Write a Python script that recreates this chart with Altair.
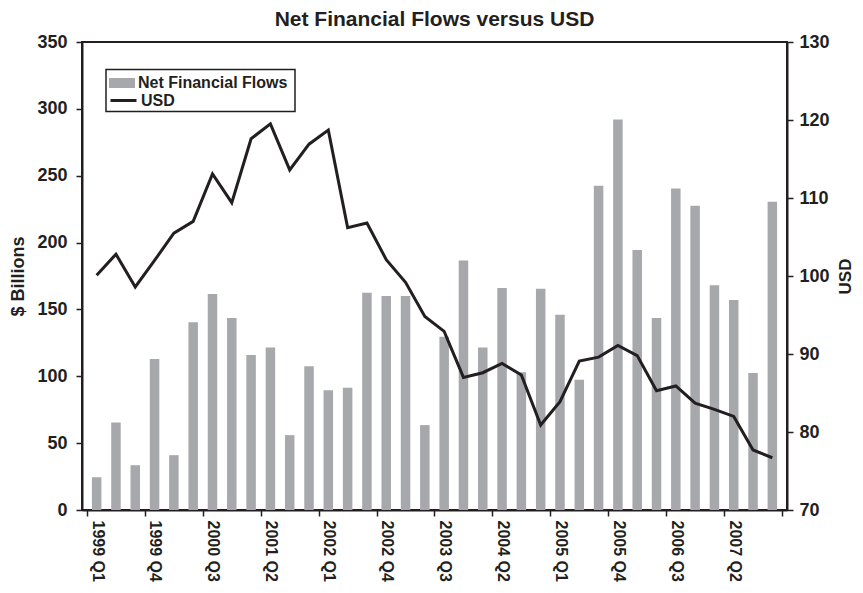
import json
import altair as alt
import pandas as pd

quarters = [
    "1999 Q1", "1999 Q2", "1999 Q3", "1999 Q4",
    "2000 Q1", "2000 Q2", "2000 Q3", "2000 Q4",
    "2001 Q1", "2001 Q2", "2001 Q3", "2001 Q4",
    "2002 Q1", "2002 Q2", "2002 Q3", "2002 Q4",
    "2003 Q1", "2003 Q2", "2003 Q3", "2003 Q4",
    "2004 Q1", "2004 Q2", "2004 Q3", "2004 Q4",
    "2005 Q1", "2005 Q2", "2005 Q3", "2005 Q4",
    "2006 Q1", "2006 Q2", "2006 Q3", "2006 Q4",
    "2007 Q1", "2007 Q2", "2007 Q3", "2007 Q4",
]
net_flows = [24.5, 65.5, 33.5, 113, 41, 140.5, 161.5, 143.5, 116, 121.5, 56, 107.5,
             89.5, 91.5, 162.5, 160, 160, 63.5, 129.5, 186.5, 121.5, 166, 103, 165.5,
             146, 97.5, 242.5, 292, 194.5, 143.5, 240.5, 227.5, 168, 157, 102.5, 230.5]
usd = [100.1, 102.8, 98.6, 102.0, 105.5, 107.0, 113.1, 109.4, 117.6, 119.5, 113.6, 116.9,
       118.7, 106.2, 106.8, 102.1, 99.2, 94.8, 92.9, 87.0, 87.6, 88.8, 87.3, 80.9,
       83.9, 89.1, 89.6, 91.1, 89.8, 85.3, 85.9, 83.7, 82.9, 82.0, 77.7, 76.7]
series_names = ["Net Financial Flows", "USD"]
x_tick_values = list(range(0, 37, 3))
left_ticks = list(range(0, 351, 50))
right_ticks = list(range(70, 131, 10))

df = pd.DataFrame({
    "idx": list(range(len(quarters))),
    "quarter": quarters,
    "flows": net_flows,
    "usd": usd,
    "s_bar": [series_names[0]] * len(quarters),
    "s_line": [series_names[1]] * len(quarters),
})

BAR = "#a7a8ac"
INK = "#231f20"
FONT = "Liberation Sans"

label_expr = f"datum.value < {len(quarters)} ? {json.dumps(quarters)}[datum.value] : ''"

x_enc = alt.X(
    "xc:Q",
    scale=alt.Scale(domain=[0, len(quarters)], nice=False, zero=False),
    axis=alt.Axis(
        values=x_tick_values, labelExpr=label_expr, labelAngle=90, labelOffset=10,
        labelFontSize=16, labelFontWeight="bold", labelColor=INK, labelPadding=4,
        tickSize=6, tickWidth=1.5, tickColor=INK, domainWidth=2, domainColor=INK,
        grid=False, title=None, labelOverlap=False,
    ),
)

base = alt.Chart(df).transform_calculate(xc="datum.idx + 0.5")

bars = base.mark_bar(size=9.5).encode(
    x=x_enc,
    y=alt.Y(
        "flows:Q",
        scale=alt.Scale(domain=[0, 350], nice=False),
        axis=alt.Axis(
            values=left_ticks, title="$ Billions", titleFontSize=18, titleFontWeight="bold",
            titleColor=INK, titlePadding=9, labelFontSize=18, labelFontWeight="bold",
            labelColor=INK, labelPadding=9, tickSize=6, tickWidth=1.5, tickColor=INK,
            domainWidth=2, domainColor=INK, grid=False,
        ),
    ),
    fill=alt.Fill(
        "s_bar:N",
        scale=alt.Scale(domain=[series_names[0]], range=[BAR]),
        legend=alt.Legend(
            title=None, orient="none", legendX=27, legendY=28, padding=0,
            symbolType="M-1,-0.385H1V0.385H-1Z", symbolSize=676, symbolStrokeWidth=0,
            labelFontSize=16, labelFontWeight="bold", labelColor=INK, labelOffset=3,
        ),
    ),
)

line = base.mark_line(strokeWidth=3, strokeJoin="miter").encode(
    x=x_enc,
    y=alt.Y(
        "usd:Q",
        scale=alt.Scale(domain=[70, 130], nice=False, zero=False),
        axis=alt.Axis(
            orient="right", values=right_ticks, title="USD", titleFontSize=17,
            titleFontWeight="bold", titleColor=INK, titleAngle=270, titleBaseline="top",
            titlePadding=8, labelFontSize=18, labelFontWeight="bold", labelColor=INK,
            labelPadding=6, tickSize=6, tickWidth=1.5, tickColor=INK, domainWidth=2,
            domainColor=INK, grid=False,
        ),
    ),
    stroke=alt.Stroke(
        "s_line:N",
        scale=alt.Scale(domain=[series_names[1]], range=[INK]),
        legend=alt.Legend(
            title=None, orient="none", legendX=27, legendY=44, padding=0,
            symbolType="stroke", symbolSize=676, symbolStrokeWidth=3,
            labelFontSize=16, labelFontWeight="bold", labelColor=INK, labelOffset=3,
        ),
    ),
)

legend_box = alt.Chart(pd.DataFrame({"box": [0]})).mark_rect(
    fill="white", stroke=INK, strokeWidth=1.5
).encode(
    x=alt.value(24), x2=alt.value(213), y=alt.value(27.5), y2=alt.value(69.5)
)

chart = alt.layer(legend_box, bars, line).resolve_scale(
    y="independent", fill="independent", stroke="independent"
).properties(
    width=705,
    height=468,
    autosize=alt.AutoSizeParams(type="none"),
    padding={"left": 74, "top": 34, "right": 68, "bottom": 75},
    title=alt.TitleParams(
        "Net Financial Flows versus USD", fontSize=21, fontWeight="bold",
        color=INK, offset=3, font=FONT,
    ),
).configure(
    font=FONT,
).configure_view(
    stroke=INK, strokeWidth=2,
)

chart.save("out.html", embed_options={"renderer": "svg", "actions": False})
